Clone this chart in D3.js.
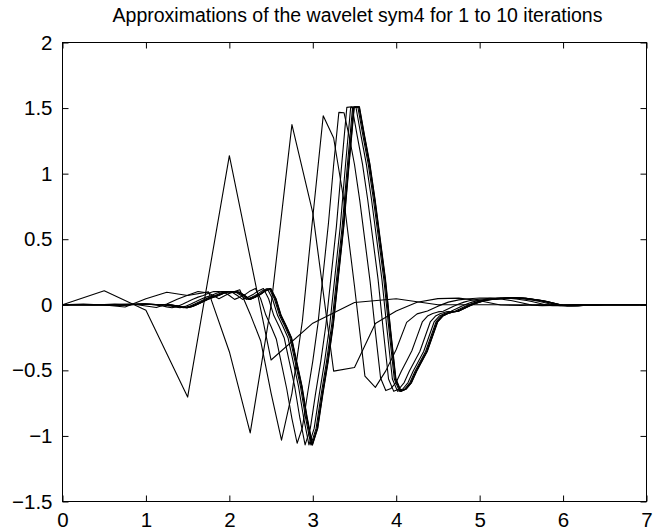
<!DOCTYPE html>
<html><head><meta charset="utf-8">
<script src="https://cdn.jsdelivr.net/npm/d3@7"></script>
<style>
body{margin:0;background:#fff}
text{font-family:"Liberation Sans",Arial,Helvetica,sans-serif;fill:#000}
</style>
</head><body>
<svg id="chart" width="653" height="532"></svg>
<script>
const titleText = "Approximations of the wavelet sym4 for 1 to 10 iterations";
const xTicks = [0, 1, 2, 3, 4, 5, 6, 7];
const yTicks = [-1.5, -1, -0.5, 0, 0.5, 1, 1.5, 2];
const xDomain = [0, 7];
const yDomain = [-1.5, 2];

// iteration 1 : 15 samples on [0,7]
const iter1 = [0, 0.1071, -0.0419, -0.7037, 1.1367, -0.4212, -0.1403, 0.0178, 0.0456, 0, 0, 0, 0, 0, 0];
// iteration 2 : 29 samples on [0,7]
const iter2 = [0, 0.0049, -0.0019, -0.0169, 0.0459, 0.0956, 0.0703, 0.0984, -0.3577, -0.9768,
  -0.0044, 1.3742, 0.7004, -0.5059, -0.4777, -0.1423, -0.0469, 0.0197, 0.0468, 0.0511,
  0.0302, -0.0019, -0.0049, 0, 0, 0, 0, 0, 0];
// iteration 3 : 57 samples on [0,7]
const iter3 = [0,
  0.0002, -0.0001, -0.0008, 0.0021, 0.0050, 0.0029, 0.0021, -0.0098, -0.0213, 0.0059,
  0.0427, 0.0731, 0.1014, 0.0902, 0.0458, 0.0871, 0.1146, -0.0715, -0.2738, -0.6737,
  -1.0321, -0.6755, -0.1250, 0.6679, 1.4408, 1.2716, 0.7877, 0.1410, -0.5439, -0.6298,
  -0.5039, -0.3410, -0.1342, -0.0691, -0.0480, -0.0103, 0.0202, 0.0377, 0.0465, 0.0518,
  0.0517, 0.0437, 0.0322, 0.0150, -0.0028, -0.0066, -0.0055, -0.0032, 0.0002, 0.0005,
  0, 0, 0, 0, 0, 0];
// iteration 4 : 113 samples on [0,7]
const iter4 = [0,
  0.0000, 0.0000, -0.0000, 0.0001, 0.0002, 0.0001, 0.0001, -0.0005, -0.0009, 0.0003,
  0.0018, 0.0036, 0.0053, 0.0045, 0.0024, 0.0026, 0.0027, -0.0026, -0.0080, -0.0162,
  -0.0226, -0.0122, 0.0049, 0.0231, 0.0426, 0.0584, 0.0712, 0.0880, 0.1016, 0.1007,
  0.0958, 0.0704, 0.0413, 0.0572, 0.0777, 0.1059, 0.1242, 0.0461, -0.0784, -0.1659,
  -0.2607, -0.4504, -0.6402, -0.8675, -1.0559, -0.9365, -0.6766, -0.4294, -0.1419, 0.2401,
  0.6202, 1.0677, 1.4672, 1.4640, 1.2809, 1.0698, 0.7975, 0.4872, 0.1749, -0.2030,
  -0.5587, -0.6542, -0.6379, -0.5911, -0.5046, -0.4284, -0.3508, -0.2413, -0.1308, -0.0861,
  -0.0666, -0.0543, -0.0493, -0.0311, -0.0108, 0.0057, 0.0202, 0.0304, 0.0379, 0.0431,
  0.0464, 0.0496, 0.0516, 0.0525, 0.0520, 0.0487, 0.0436, 0.0385, 0.0325, 0.0244,
  0.0158, 0.0061, -0.0031, -0.0062, -0.0068, -0.0066, -0.0055, -0.0045, -0.0035, -0.0016,
  0.0003, 0.0007, 0.0006, 0.0003, 0.0000, -0.0001,
  0, 0, 0, 0, 0, 0];
// iterations 5..10 : converged wavelet traced at a step of 1/16 on [0,7]
const limitShape = [0, 0, 0, 0,
  0.0000, 0.0000, 0.0000, 0.0001, 0.0002, 0.0001, 0.0001, -0.0005, -0.0009, 0.0003,
  0.0018, 0.0036, 0.0053, 0.0045, 0.0024, 0.0026, 0.0027, -0.0026, -0.0080, -0.0162,
  -0.0226, -0.0122, 0.0049, 0.0231, 0.0426, 0.0584, 0.0712, 0.0880, 0.1016, 0.1007,
  0.0958, 0.0704, 0.0413, 0.0572, 0.0777, 0.1059, 0.1242, 0.0461, -0.082, -0.164,
  -0.254, -0.439, -0.623, -0.865, -1.068, -0.943, -0.677, -0.433, -0.150, 0.224,
  0.596, 1.062, 1.505, 1.510, 1.286, 1.075, 0.803, 0.498, 0.192, -0.198,
  -0.566, -0.660, -0.642, -0.593, -0.505, -0.431, -0.356, -0.244, -0.131, -0.0861,
  -0.0666, -0.0543, -0.0493, -0.0311, -0.0108, 0.0057, 0.0202, 0.0304, 0.0379, 0.0431,
  0.0464, 0.0496, 0.0516, 0.0525, 0.0520, 0.0487, 0.0436, 0.0385, 0.0325, 0.0244,
  0.0158, 0.0061, -0.0031, -0.0062, -0.0068, -0.0066, -0.0055, -0.0045, -0.0035, -0.0016,
  0.0003, 0.0007, 0.0006, 0.0003, 0, -0.0001, 0, 0, 0];
// horizontal lag of iterations 5..10 relative to the converged shape
const limitShift = [0.092, 0.046, 0.023, 0.011, 0.006, 0.003];

const svg = d3.select("#chart");
const W = 653, H = 532;
const margin = {left: 62.5, right: W - 646.5, top: 42.5, bottom: H - 501.5};
const x = d3.scaleLinear().domain(xDomain).range([margin.left, W - margin.right]);
const y = d3.scaleLinear().domain(yDomain).range([H - margin.bottom, margin.top]);

svg.append("rect").attr("width", W).attr("height", H).attr("fill", "#fff");

svg.append("clipPath").attr("id", "clip").append("rect")
  .attr("x", x(0)).attr("y", y(2)).attr("width", x(7) - x(0)).attr("height", y(-1.5) - y(2));

function gridSeries(vals) {
  const n = vals.length;
  return vals.map((v, i) => [xDomain[0] + (xDomain[1] - xDomain[0]) * i / (n - 1), v]);
}
const series = [gridSeries(iter1), gridSeries(iter2), gridSeries(iter3), gridSeries(iter4)];
const limitPts = gridSeries(limitShape);
limitShift.forEach(s => series.push(limitPts.map(([t, v]) => [t - s, v])));

const line = d3.line().x(d => x(d[0])).y(d => y(d[1]));
const g = svg.append("g").attr("clip-path", "url(#clip)");
g.selectAll("path.curve").data(series).join("path")
  .attr("class", "curve")
  .attr("d", line)
  .attr("fill", "none")
  .attr("stroke", "#000")
  .attr("stroke-width", 1.1)
  .attr("stroke-linejoin", "round");

const fmt = v => (v < 0 ? "\u2212" : "") + Math.abs(v);
const fontSize = 20.5;

// axes (ticks pointing inwards on all four sides)
const axB = d3.axisBottom(x).tickValues(xTicks).tickSizeInner(-6).tickSizeOuter(0).tickPadding(11).tickFormat(fmt);
const axT = d3.axisTop(x).tickValues(xTicks).tickSizeInner(-6).tickSizeOuter(0).tickFormat("");
const axL = d3.axisLeft(y).tickValues(yTicks).tickSizeInner(-6).tickSizeOuter(0).tickPadding(10).tickFormat(fmt);
const axR = d3.axisRight(y).tickValues(yTicks).tickSizeInner(-6).tickSizeOuter(0).tickFormat("");

function styleAxis(sel) {
  sel.select(".domain").remove();
  sel.selectAll("line").attr("stroke", "#000").attr("stroke-width", 1);
  sel.selectAll("text").attr("font-size", fontSize).attr("fill", "#000")
    .attr("font-family", "'Liberation Sans', Arial, Helvetica, sans-serif");
}
svg.append("g").attr("transform", `translate(0,${y(-1.5)})`).call(axB).call(styleAxis);
svg.append("g").attr("transform", `translate(0,${y(2)})`).call(axT).call(styleAxis);
svg.append("g").attr("transform", `translate(${x(0)},0)`).call(axL).call(styleAxis);
svg.append("g").attr("transform", `translate(${x(7)},0)`).call(axR).call(styleAxis);

svg.append("rect")
  .attr("x", x(0)).attr("y", y(2)).attr("width", x(7) - x(0)).attr("height", y(-1.5) - y(2))
  .attr("fill", "none").attr("stroke", "#000").attr("stroke-width", 1);

svg.append("text")
  .attr("x", (x(0) + x(7)) / 2 + 3).attr("y", 22)
  .attr("text-anchor", "middle")
  .attr("font-size", 19.5)
  .text(titleText);
</script>
</body></html>
